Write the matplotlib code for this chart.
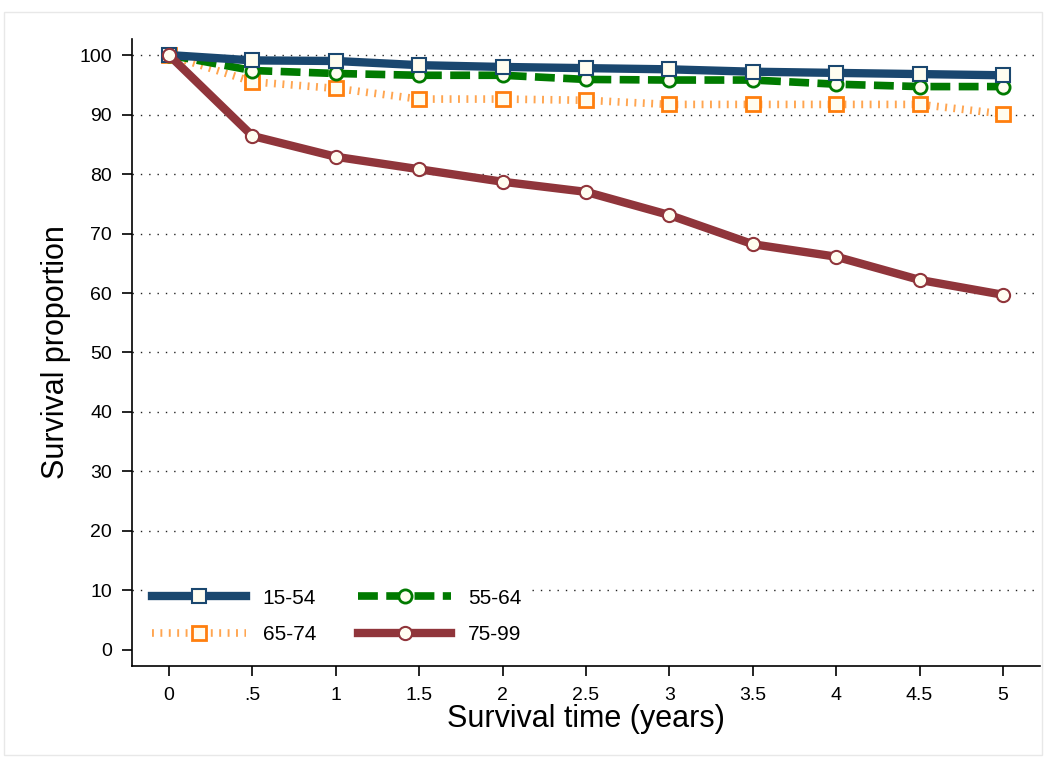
import matplotlib
matplotlib.use("Agg")
import matplotlib.pyplot as plt
from matplotlib.patches import Rectangle

plt.rcParams["font.family"] = ["Liberation Sans", "DejaVu Sans"]

# survival proportion by age group
years = [0, 0.5, 1, 1.5, 2, 2.5, 3, 3.5, 4, 4.5, 5]
age_15_54 = [100, 99.1, 99.0, 98.3, 98.0, 97.8, 97.6, 97.2, 97.0, 96.8, 96.6]
age_55_64 = [100, 97.4, 96.9, 96.6, 96.6, 95.9, 95.8, 95.8, 95.1, 94.7, 94.7]
age_65_74 = [100, 95.5, 94.4, 92.6, 92.6, 92.4, 91.7, 91.7, 91.7, 91.7, 90.1]
age_75_99 = [100, 86.4, 82.9, 80.8, 78.7, 77.0, 73.1, 68.2, 66.1, 62.2, 59.7]

xticks = [0, 0.5, 1, 1.5, 2, 2.5, 3, 3.5, 4, 4.5, 5]
xtick_labels = ["0", ".5", "1", "1.5", "2", "2.5", "3", "3.5", "4", "4.5", "5"]
yticks = list(range(0, 101, 10))

fig = plt.figure(figsize=(10.46, 7.6), dpi=100)
ax = fig.add_axes([0.1259, 0.1237, 0.8684, 0.825])

# faint frame around the whole graph
fig.patches.append(Rectangle((0.004, 0.007), 0.992, 0.977, transform=fig.transFigure,
                             fill=False, edgecolor="#e8e8e8", linewidth=1))

for y in yticks[1:]:
    ax.axhline(y, color="#222222", linestyle=(0, (1, 5)), linewidth=1, zorder=1)

fill = "#fffdf0"
l1, = ax.plot(years, age_15_54, color="#1a476f", linewidth=6, marker="s", markersize=9.5,
              markerfacecolor=fill, markeredgecolor="#1a476f", markeredgewidth=1.5,
              label="15-54", zorder=6)
l2, = ax.plot(years, age_55_64, color="#007a00", linewidth=5.5, linestyle=(0, (2.6, 1.1)),
              marker="o", markersize=9.5, markerfacecolor=fill, markeredgecolor="#007a00",
              markeredgewidth=2, label="55-64", zorder=5)
l3, = ax.plot(years, age_65_74, color="#ffa550", linewidth=5.5, linestyle=(0, (0.25, 0.85)),
              marker="s", markersize=10, markerfacecolor=fill, markeredgecolor="#ff7f0e",
              markeredgewidth=2, label="65-74", zorder=4)
l4, = ax.plot(years, age_75_99, color="#90353b", linewidth=6, marker="o", markersize=9.5,
              markerfacecolor=fill, markeredgecolor="#90353b", markeredgewidth=1.5,
              label="75-99", zorder=7)

ax.set_xlim(-0.224, 5.222)
ax.set_ylim(-2.7, 102.7)
ax.set_xticks(xticks)
ax.set_xticklabels(xtick_labels)
ax.set_yticks(yticks)
ax.tick_params(axis="both", labelsize=14, length=7, width=1.2, direction="out")
ax.tick_params(axis="x", pad=8)
ax.tick_params(axis="y", pad=7)
for side in ["top", "right"]:
    ax.spines[side].set_visible(False)
for side in ["left", "bottom"]:
    ax.spines[side].set_linewidth(1.2)

ax.set_xlabel("Survival time (years)", fontsize=22, labelpad=0)
ax.set_ylabel("Survival proportion", fontsize=22, labelpad=6)

# row-wise order like the reference: 15-54, 55-64 / 65-74, 75-99
leg = ax.legend([l1, l3, l2, l4], ["15-54", "65-74", "55-64", "75-99"],
                loc="lower left", ncol=2, fontsize=15, frameon=True, framealpha=1,
                edgecolor="white", facecolor="white", handlelength=4.5,
                handletextpad=0.8, columnspacing=2.0, labelspacing=0.85,
                borderaxespad=0, borderpad=0.4, bbox_to_anchor=(0.0135, 0.021))
leg.get_frame().set_linewidth(0)
leg.set_zorder(10)

fig.savefig("out.png", dpi=100)
